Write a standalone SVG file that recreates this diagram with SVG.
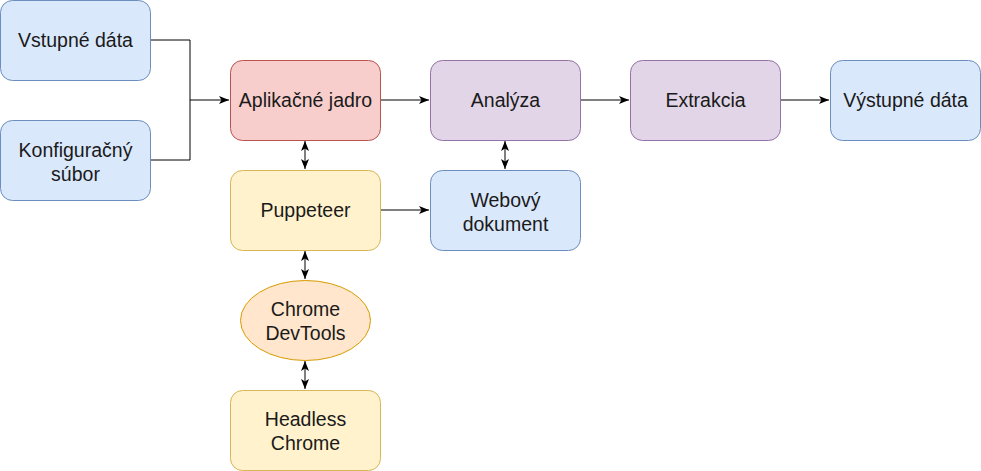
<svg xmlns="http://www.w3.org/2000/svg" width="981" height="471" viewBox="0 0 981 471">
<style>
.t{font-family:"Liberation Sans",Arial,sans-serif;font-size:19.5px;fill:#1a1a1a;text-anchor:middle}
.blue{fill:#dae8fc;stroke:#6c8ebf}
.red{fill:#f8cecc;stroke:#b85450}
.pur{fill:#e1d5e7;stroke:#9673a6}
.yel{fill:#fff2cc;stroke:#d6b656}
.ora{fill:#ffe6cc;stroke:#d79b00}
.c{fill:none;stroke:#000;stroke-width:1}
</style>
<defs>
<marker id="a" viewBox="0 0 10 10" refX="10" refY="5" markerWidth="10" markerHeight="10" markerUnits="userSpaceOnUse" orient="auto-start-reverse">
<path d="M0,1 L10,5 L0,9 L2.5,5 Z" fill="#000"/>
</marker>
</defs>
<g id="connectors">
<path class="c" d="M150,40 H190 V160 H150" />
<path class="c" d="M190,100 H229" marker-end="url(#a)"/>
<path class="c" d="M380,100 H429" marker-end="url(#a)"/>
<path class="c" d="M580,100 H629" marker-end="url(#a)"/>
<path class="c" d="M780,100 H829" marker-end="url(#a)"/>
<path class="c" d="M380,210 H429" marker-end="url(#a)"/>
<path class="c" d="M305,141 V169" marker-start="url(#a)" marker-end="url(#a)"/>
<path class="c" d="M505,141 V169" marker-start="url(#a)" marker-end="url(#a)"/>
<path class="c" d="M305,251 V279" marker-start="url(#a)" marker-end="url(#a)"/>
<path class="c" d="M305,361 V389" marker-start="url(#a)" marker-end="url(#a)"/>
</g>
<g id="vstupne"><rect class="blue" x="0.5" y="0.5" width="150" height="80" rx="12"/><text class="t" x="75.5" y="47">Vstupné dáta</text></g>
<g id="konfig"><rect class="blue" x="0.5" y="120.5" width="150" height="80" rx="12"/><text class="t" x="75.5" y="157">Konfiguračný</text><text class="t" x="75.5" y="181">súbor</text></g>
<g id="jadro"><rect class="red" x="230.5" y="60.5" width="150" height="80" rx="12"/><text class="t" x="305.5" y="107">Aplikačné jadro</text></g>
<g id="analyza"><rect class="pur" x="430.5" y="60.5" width="150" height="80" rx="12"/><text class="t" x="505.5" y="107">Analýza</text></g>
<g id="extrakcia"><rect class="pur" x="630.5" y="60.5" width="150" height="80" rx="12"/><text class="t" x="705.5" y="107">Extrakcia</text></g>
<g id="vystupne"><rect class="blue" x="830.5" y="60.5" width="150" height="80" rx="12"/><text class="t" x="905.5" y="107">Výstupné dáta</text></g>
<g id="puppeteer"><rect class="yel" x="230.5" y="170.5" width="150" height="80" rx="12"/><text class="t" x="305.5" y="217">Puppeteer</text></g>
<g id="webovy"><rect class="blue" x="430.5" y="170.5" width="150" height="80" rx="12"/><text class="t" x="505.5" y="207">Webový</text><text class="t" x="505.5" y="231">dokument</text></g>
<g id="devtools"><ellipse class="ora" cx="305.5" cy="320.5" rx="65" ry="40"/><text class="t" x="305.5" y="316">Chrome</text><text class="t" x="305.5" y="340">DevTools</text></g>
<g id="headless"><rect class="yel" x="230.5" y="390.5" width="150" height="80" rx="12"/><text class="t" x="305.5" y="426">Headless</text><text class="t" x="305.5" y="450">Chrome</text></g>
</svg>
